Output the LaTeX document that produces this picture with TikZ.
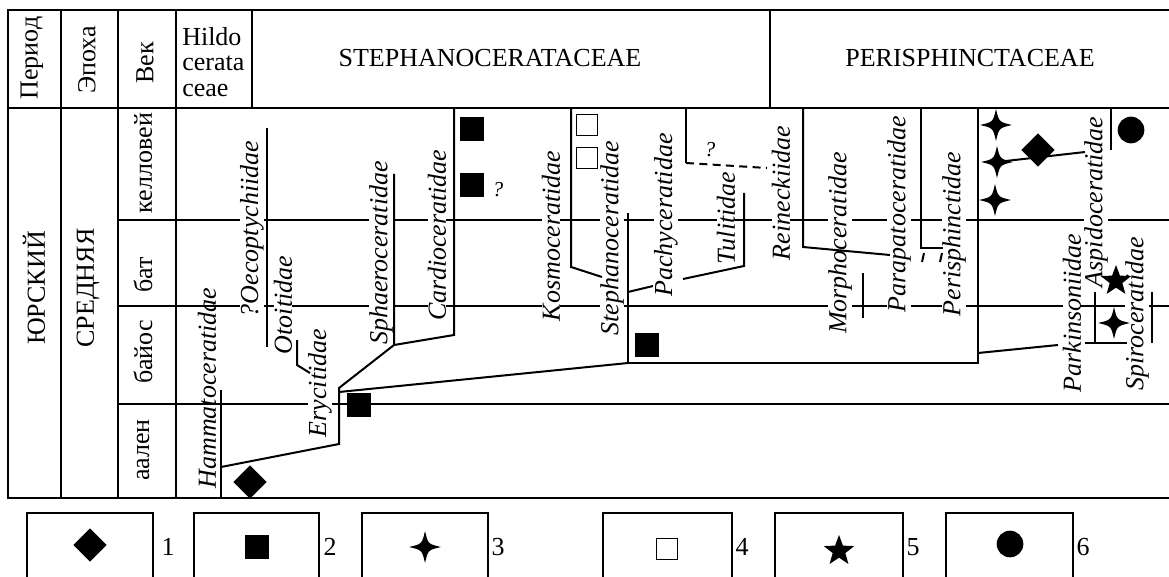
\documentclass[tikz,border=0pt]{standalone}
\usepackage{fontspec}
\setmainfont{Liberation Serif}
\usetikzlibrary{shapes.geometric}
\begin{document}
\begin{tikzpicture}[x=0.75pt,y=-0.75pt,
  every node/.style={font=\fontsize{19.5}{19}\selectfont, inner sep=0pt},
  grid/.style={line width=0.8pt},
  tree/.style={line width=1.5pt},
  fam/.style={rotate=90, font=\fontsize{19.5}{19}\selectfont\itshape, fill=white, inner xsep=3pt, inner ysep=0pt},
  stage/.style={rotate=90},
  sq/.style={fill=black, minimum size=18pt, inner sep=0pt},
  osq/.style={draw, line width=0.8pt, minimum size=16pt},
  dia/.style={diamond, fill=black, minimum size=25pt, inner sep=0pt},
  dot/.style={circle, fill=black, minimum size=20pt},
  starfive/.style={star, star points=5, star point ratio=2.4, fill=black, minimum size=24pt},
  sparkle/.pic={\fill (0,-16) .. controls (3,-3) .. (16,0) .. controls (3,3) .. (0,16) .. controls (-3,3) .. (-16,0) .. controls (-3,-3) .. (0,-16) -- cycle;}
]
\useasboundingbox (0,0) rectangle (1169,577);
\clip (0,0) rectangle (1169,577);
% ---------- table grid ----------
\draw[grid] (1169,10) -- (8,10) -- (8,498) -- (1169,498);
\draw[grid] (8,108) -- (1169,108);
\foreach \x in {61,118,176} \draw[grid] (\x,10) -- (\x,498);
\draw[grid] (252,10) -- (252,108);
\draw[grid] (770,10) -- (770,108);
\foreach \y in {220,306,404} \draw[grid] (118,\y) -- (1169,\y);
% ---------- header ----------
\node[stage] (hP) at (32,58) {Период};
\node[stage] (hE) at (87,60) {Эпоха};
\node[stage] (hV) at (145,63) {Век};
\node[anchor=west, align=left] (hH) at (182,62) {Hildo\\cerata\\ceae};
\node (hS) at (490,58) {STEPHANOCERATACEAE};
\node (hPe) at (970,58) {PERISPHINCTACEAE};
% ---------- left columns ----------
\node[stage] (jur) at (34,288) {ЮРСКИЙ};
\node[stage] (mid) at (88,288) {СРЕДНЯЯ};
\node[stage] (s1) at (143,163) {келловей};
\node[stage] (s2) at (143,275) {бат};
\node[stage] (s3) at (143,352) {байос};
\node[stage] (s4) at (143,450) {аален};
% ---------- family labels ----------
\node[fam, fill=none] (fHam) at (207,388) {Hammatoceratidae};
\node[fam] (fOec) at (252,229) {?Oecoptychiidae};
\node[fam] (fOto) at (283,305) {Otoitidae};
\node[fam] (fEry) at (320,383) {Erycitidae};
\node[fam] (fSph) at (381,253) {Sphaeroceratidae};
\node[fam] (fCar) at (437,235) {Cardioceratidae};
\node[fam] (fKos) at (551,236) {Kosmoceratidae};
\node[fam] (fSte) at (612,238) {Stephanoceratidae};
\node[fam] (fPac) at (666,215) {Pachyceratidae};
\node[fam] (fTul) at (726,218) {Tulitidae};
\node[fam] (fRei) at (781,193) {Reineckiidae};
\node[fam] (fMor) at (840,243) {Morphoceratidae};
\node[fam] (fPar) at (899,214) {Parapatoceratidae};
\node[fam] (fPer) at (954,234) {Perisphinctidae};
\node[fam] (fAsp) at (1096,202) {Aspidoceratidae};
\node[fam] (fPak) at (1072,313) {Parkinsoniidae};
\node[fam] (fSpi) at (1137,314) {Spiroceratidae};
% ---------- tree ----------
\coordinate (ham0) at (221,498);
\coordinate (ham1) at (221,390);
\coordinate (hamJ) at (221,467);
\coordinate (eryB) at (339,444);
\coordinate (eryT) at (339,388);
\coordinate (eryL) at (339,392);
\coordinate (sphB) at (394,345);
\coordinate (sphT) at (394,174);
\coordinate (carB) at (454,335);
\coordinate (carT) at (454,108);
\coordinate (steB) at (628,363);
\coordinate (steT) at (628,213);
\coordinate (perB) at (978,363);
\coordinate (perT) at (978,108);
\draw[tree] (ham1) -- (ham0);
\draw[tree] (hamJ) -- (eryB) -- (eryT) -- (sphB) -- (sphT);
\draw[tree] (sphB) -- (carB) -- (carT);
\draw[tree] (267,128) -- (267,347);
\draw[tree] (297,340) -- (297,365) -- (310,373);
\draw[tree] (eryL) -- (steB);
\draw[tree] (steT) -- (steB) -- (perB) -- (perT);
\draw[tree] (628,292) -- (653,286);
\draw[tree] (683,279) -- (744,266) -- (744,193);
\draw[tree] (571,108) -- (571,267) -- (602,277);
\draw[tree] (686,108) -- (686,163);
\draw[tree, dashed, dash pattern=on 6pt off 4pt] (686,163) -- (767,168);
\node[font=\fontsize{16}{16}\selectfont\itshape] (q2) at (710,150) {?};
\draw[tree] (803,108) -- (803,247) -- (890,255);
\draw[tree] (863,273) -- (863,318);
\draw[tree] (921,108) -- (921,248) -- (943,248);
\draw[tree] (924,253) -- (922,262);
\draw[tree] (942,253) -- (940,262);
\draw[tree] (978,353) -- (1058,345);
\draw[tree] (1111,108) -- (1111,150);
\draw[tree] (997,162) -- (1085,152);
\draw[tree] (1152,292) -- (1152,343);
\draw[tree] (1095,292) -- (1095,343);
\draw[tree] (1085,343) -- (1127,343);
% ---------- symbols ----------
\node[dia] (d1) at (250,482) {};
\node[sq] (q1) at (359,405) {};
\node[sq] (q3) at (647,345) {};
\node[sq] (c1) at (472,129) {};
\node[sq] (c2) at (472,185) {};
\node[font=\fontsize{16}{16}\selectfont\itshape] (qm) at (498,190) {?};
\node[osq] (o1) at (587,125) {};
\node[osq] (o2) at (587,158) {};
\pic at (996,125) {sparkle};
\pic at (997,162) {sparkle};
\pic at (995,200) {sparkle};
\node[dia] (d2) at (1038,150) {};
\node[dot] (ci) at (1131,130) {};
\node[starfive] (st) at (1116,281) {};
\pic at (1114,323) {sparkle};
% ---------- legend ----------
\foreach \a/\b/\n/\t in {27/153/1/168,194/319/2/330,362/488/3/498,603/732/4/742,775/903/5/913,946/1073/6/1083}{
  \draw[grid] (\a,590) -- (\a,513) -- (\b,513) -- (\b,590);
  \node (n\n) at (\t,547) {\n};
}
\node[dia] (L1) at (90,545) {};
\node[sq] (L2) at (257,547) {};
\pic at (425,547) {sparkle};
\node[osq] (L4) at (667,549) {};
\node[starfive] (L5) at (839,551) {};
\node[dot] (L6) at (1010,544) {};
\end{tikzpicture}
\end{document}
